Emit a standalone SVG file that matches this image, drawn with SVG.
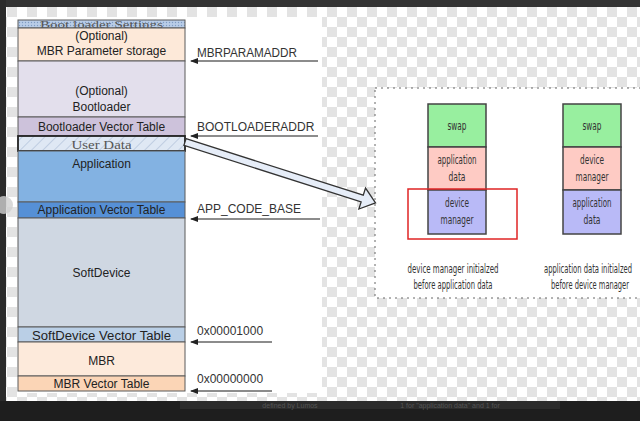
<svg xmlns="http://www.w3.org/2000/svg" width="640" height="421" viewBox="0 0 640 421">
<defs>
<pattern id="chk" x="7" y="7" width="20" height="20" patternUnits="userSpaceOnUse"><rect width="20" height="20" fill="#ffffff"/><rect width="10" height="10" fill="#e3e3e3"/><rect x="10" y="10" width="10" height="10" fill="#e3e3e3"/></pattern>
<pattern id="dots" width="3" height="3" patternUnits="userSpaceOnUse"><rect width="3" height="3" fill="#b9cde8"/><circle cx="1.5" cy="1.5" r="0.7" fill="#7f9cc4"/></pattern>
<pattern id="hatch" width="8" height="8" patternUnits="userSpaceOnUse" patternTransform="rotate(45)"><rect width="8" height="8" fill="#dfe8f4"/><line x1="0" y1="0" x2="0" y2="8" stroke="#9fb3cf" stroke-width="1"/></pattern>
<marker id="ah" markerWidth="8" markerHeight="6" refX="1" refY="3" orient="auto" markerUnits="userSpaceOnUse"><path d="M8,0 L0,3 L8,6 Z" fill="#222"/></marker>
<style>
.box{stroke:#5a5a5a;stroke-width:1}
.t{font-family:"Liberation Sans",Arial,sans-serif;font-size:12px;fill:#222;text-anchor:middle}
.lbl{font-family:"Liberation Sans",Arial,sans-serif;font-size:12px;fill:#333}
.ser{font-family:"Liberation Serif","DejaVu Serif",serif;fill:#555;text-anchor:middle}
.addr{stroke:#666;stroke-width:1.5;fill:none;marker-start:url(#ah)}
.st{stroke:#444;stroke-width:1.5}
.c{font-family:"DejaVu Sans Condensed","DejaVu Sans","Liberation Sans",sans-serif;font-size:12px;fill:#333;text-anchor:middle}
.cap{font-family:"DejaVu Sans Condensed","DejaVu Sans","Liberation Sans",sans-serif;font-size:11.5px;fill:#333;text-anchor:middle}
</style>
</defs>
<!-- viewer background -->
<rect width="640" height="421" fill="url(#chk)"/>
<rect x="17" y="17" width="305" height="376" fill="#ffffff"/>
<rect x="0" y="0" width="640" height="7" fill="#333333"/>
<rect x="0" y="0" width="6" height="421" fill="#2b2b2b"/>
<rect x="0" y="401" width="640" height="20" fill="#1e1e1e"/>
<rect x="180" y="401" width="380" height="8" fill="#2c2c2c"/>
<text x="290" y="408" font-family="Liberation Sans,sans-serif" font-size="7" fill="#555" text-anchor="middle">defined by Lumos</text>
<text x="450" y="407.5" font-family="Liberation Sans,sans-serif" font-size="7" fill="#555" text-anchor="middle">1 for "application data" and 1 for</text>
<circle cx="4" cy="205" r="9" fill="#cfcfcf" opacity="0.8"/>
<circle cx="636" cy="204" r="9" fill="#d0d0d0" opacity="0.8"/>

<!-- memory map -->
<g id="bl-settings"><rect class="box" x="18" y="20" width="167" height="8" fill="url(#dots)"/><text class="ser" x="101.5" y="27.5" font-size="9.5" textLength="123" lengthAdjust="spacingAndGlyphs">Boot loader Settings</text></g>
<g id="mbr-param"><rect class="box" x="18" y="28" width="167" height="33" fill="#fde9d9"/><text class="t" x="101.5" y="40">(Optional)</text><text class="t" x="101.5" y="55">MBR Parameter storage</text></g>
<g id="bootloader"><rect class="box" x="18" y="61" width="167" height="56" fill="#e3dfec"/><text class="t" x="101.5" y="95">(Optional)</text><text class="t" x="101.5" y="111">Bootloader</text></g>
<g id="bl-vt"><rect class="box" x="18" y="117" width="167" height="19" fill="#cdc2db"/><text class="t" x="101.5" y="131">Bootloader Vector Table</text></g>
<g id="user-data"><rect x="18" y="136" width="167" height="15" fill="url(#hatch)" stroke="#222" stroke-width="1.8"/><text class="ser" x="101.5" y="148.5" font-size="12" textLength="60" lengthAdjust="spacingAndGlyphs">User Data</text></g>
<g id="application"><rect class="box" x="18" y="151" width="167" height="51" fill="#83b2e2"/><text class="t" x="101.5" y="168">Application</text></g>
<g id="app-vt"><rect class="box" x="18" y="202" width="167" height="16" fill="#5690d6"/><text class="t" x="101.5" y="214">Application Vector Table</text></g>
<g id="softdevice"><rect class="box" x="18" y="218" width="167" height="109" fill="#cfd7e2"/><text class="t" x="101.5" y="277">SoftDevice</text></g>
<g id="sd-vt"><rect class="box" x="18" y="327" width="167" height="15" fill="#bacfe6"/><text class="t" x="101.5" y="339.5" textLength="139" lengthAdjust="spacingAndGlyphs">SoftDevice Vector Table</text></g>
<g id="mbr"><rect class="box" x="18" y="342" width="167" height="34" fill="#fdeadb"/><text class="t" x="101.5" y="365">MBR</text></g>
<g id="mbr-vt"><rect class="box" x="18" y="376" width="167" height="15" fill="#fbd5b6"/><text class="t" x="101.5" y="388">MBR Vector Table</text></g>

<!-- address labels -->
<g id="addr-labels">
<text class="lbl" x="197" y="57" textLength="100" lengthAdjust="spacingAndGlyphs">MBRPARAMADDR</text>
<text class="lbl" x="197" y="131">BOOTLOADERADDR</text>
<text class="lbl" x="197" y="213">APP_CODE_BASE</text>
<text class="lbl" x="197" y="335">0x00001000</text>
<text class="lbl" x="197" y="383">0x00000000</text>
</g>

<!-- right panel -->
<g id="panel"><rect x="375" y="88" width="266" height="210" fill="#ffffff" stroke="#666" stroke-width="1" stroke-dasharray="2 4"/></g>
<g id="stack-left">
<rect class="st" x="428" y="104" width="58" height="43" fill="#98ef9f"/><text class="c" x="457" y="130" textLength="19" lengthAdjust="spacingAndGlyphs">swap</text>
<rect class="st" x="428" y="147" width="58" height="43" fill="#fecbc4"/><text class="c" x="457" y="164" textLength="39" lengthAdjust="spacingAndGlyphs">application</text><text class="c" x="457" y="181" textLength="17" lengthAdjust="spacingAndGlyphs">data</text>
<rect class="st" x="428" y="190" width="58" height="44" fill="#b9baf7"/><text class="c" x="457" y="207" textLength="24" lengthAdjust="spacingAndGlyphs">device</text><text class="c" x="457" y="224" textLength="33" lengthAdjust="spacingAndGlyphs">manager</text>
</g>
<g id="stack-right">
<rect class="st" x="563" y="104" width="58" height="43" fill="#98ef9f"/><text class="c" x="592" y="130" textLength="19" lengthAdjust="spacingAndGlyphs">swap</text>
<rect class="st" x="563" y="147" width="58" height="43" fill="#fecbc4"/><text class="c" x="592" y="164" textLength="24" lengthAdjust="spacingAndGlyphs">device</text><text class="c" x="592" y="181" textLength="33" lengthAdjust="spacingAndGlyphs">manager</text>
<rect class="st" x="563" y="190" width="58" height="44" fill="#b9baf7"/><text class="c" x="592" y="207" textLength="39" lengthAdjust="spacingAndGlyphs">application</text><text class="c" x="592" y="224" textLength="17" lengthAdjust="spacingAndGlyphs">data</text>
</g>
<g id="highlight"><rect x="408" y="189" width="109" height="50" fill="none" stroke="#e02424" stroke-width="1.5"/></g>
<g id="captions">
<text class="cap" x="453" y="273" textLength="91" lengthAdjust="spacingAndGlyphs">device manager initialzed</text>
<text class="cap" x="453" y="289" textLength="79" lengthAdjust="spacingAndGlyphs">before application data</text>
<text class="cap" x="588" y="273" textLength="88" lengthAdjust="spacingAndGlyphs">application data initialzed</text>
<text class="cap" x="590" y="289" textLength="78" lengthAdjust="spacingAndGlyphs">before device manager</text>
</g>

<!-- connectors -->
<g id="connectors">
<line class="addr" x1="191" y1="61" x2="318" y2="61"/>
<line class="addr" x1="191" y1="136" x2="318" y2="136"/>
<line class="addr" x1="191" y1="219" x2="320" y2="219"/>
<line class="addr" x1="191" y1="342" x2="272" y2="342"/>
<line class="addr" x1="191" y1="391" x2="272" y2="391"/>
<polygon transform="translate(185,142) rotate(17.7)" points="0,-3.5 186,-3.5 186,-11 200,0 186,11 186,3.5 0,3.5" fill="#e6edf8" stroke="#333" stroke-width="1.3" stroke-linejoin="miter"/>
</g>
</svg>
